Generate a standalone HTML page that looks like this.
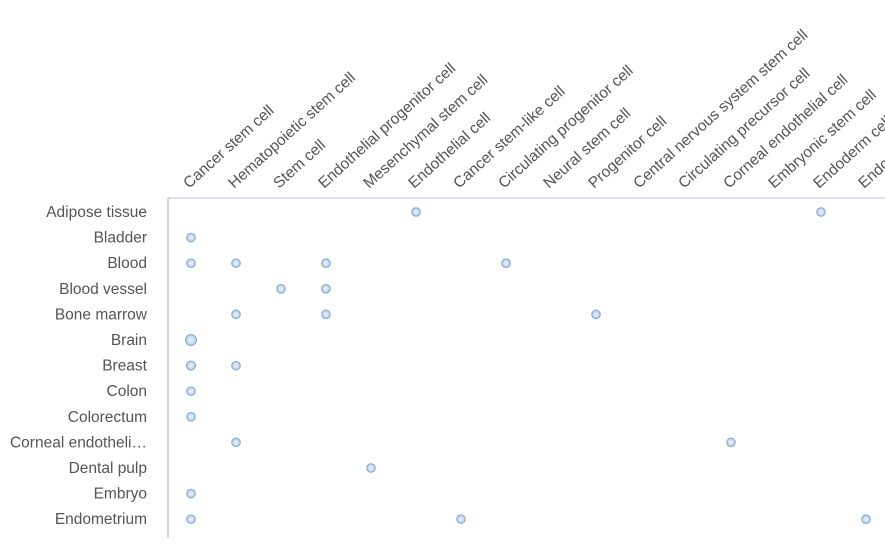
<!DOCTYPE html>
<html><head><meta charset="utf-8"><style>
body{margin:0;background:#fff;width:885px;height:538px;overflow:hidden}
text{font-family:"Liberation Sans",sans-serif;fill:#555;font-size:15.5px}
</style></head><body>
<svg width="885" height="538">
<g id="grid"></g><g id="labels"></g><g id="marks"></g>
</svg>
<script>
const categories=["Cancer stem cell","Hematopoietic stem cell","Stem cell","Endothelial progenitor cell","Mesenchymal stem cell","Endothelial cell","Cancer stem-like cell","Circulating progenitor cell","Neural stem cell","Progenitor cell","Central nervous system stem cell","Circulating precursor cell","Corneal endothelial cell","Embryonic stem cell","Endoderm cell","Endothelial stem cell"];
const tissues=["Adipose tissue","Bladder","Blood","Blood vessel","Bone marrow","Brain","Breast","Colon","Colorectum","Corneal endotheli…","Dental pulp","Embryo","Endometrium"];
const pointsRow=[0,0,1,2,2,2,2,3,3,4,4,4,5,6,6,7,8,9,9,10,11,12,12,12];
const pointsCol=[5,14,0,0,1,3,7,2,3,1,3,9,0,0,1,0,0,1,12,4,0,0,6,15];
const pointsSize=[1,1,1,1,1,1,1,1,1,1,1,1,3,1.5,1,1,1,1,1,1,1,1,1,1];
const NS="http://www.w3.org/2000/svg";
const xPos=i=>191+i*45, yPos=j=>212+j*25.6;
function mk(t,a,p){const e=document.createElementNS(NS,t);for(const k in a)e.setAttribute(k,a[k]);p.appendChild(e);return e;}
const G=document.getElementById('grid'),L=document.getElementById('labels'),M=document.getElementById('marks');
const ax=mk('line',{x1:168,y1:198,x2:168,y2:538,stroke:'#ccc','stroke-width':1.5},G);

const tx=mk('line',{x1:168,y1:198,x2:885,y2:198,stroke:'#ccd6eb','stroke-width':1.5},G);

categories.forEach((c,i)=>{const x=xPos(i)-2,y=189;
const t=mk('text',{x:x,y:y,transform:`rotate(-42 ${x} ${y})`},L);t.textContent=c;
});
tissues.forEach((c,j)=>{const t=mk('text',{x:147,y:yPos(j)+5,'text-anchor':'end'},L);t.textContent=c;
});
const defs=mk('defs',{},M);const rg=mk('radialGradient',{id:'g'},defs);
mk('stop',{offset:'0','stop-color':'#eef4fb'},rg);mk('stop',{offset:'1','stop-color':'#b8cde6'},rg);
pointsRow.forEach((r,k)=>{const s=pointsSize[k];
const c=mk('circle',{cx:xPos(pointsCol[k]),cy:yPos(r),r:3.6+s*0.6,fill:'url(#g)',stroke:'#8fb0d6','stroke-width':1.3},M);
});
</script>
</body></html>
